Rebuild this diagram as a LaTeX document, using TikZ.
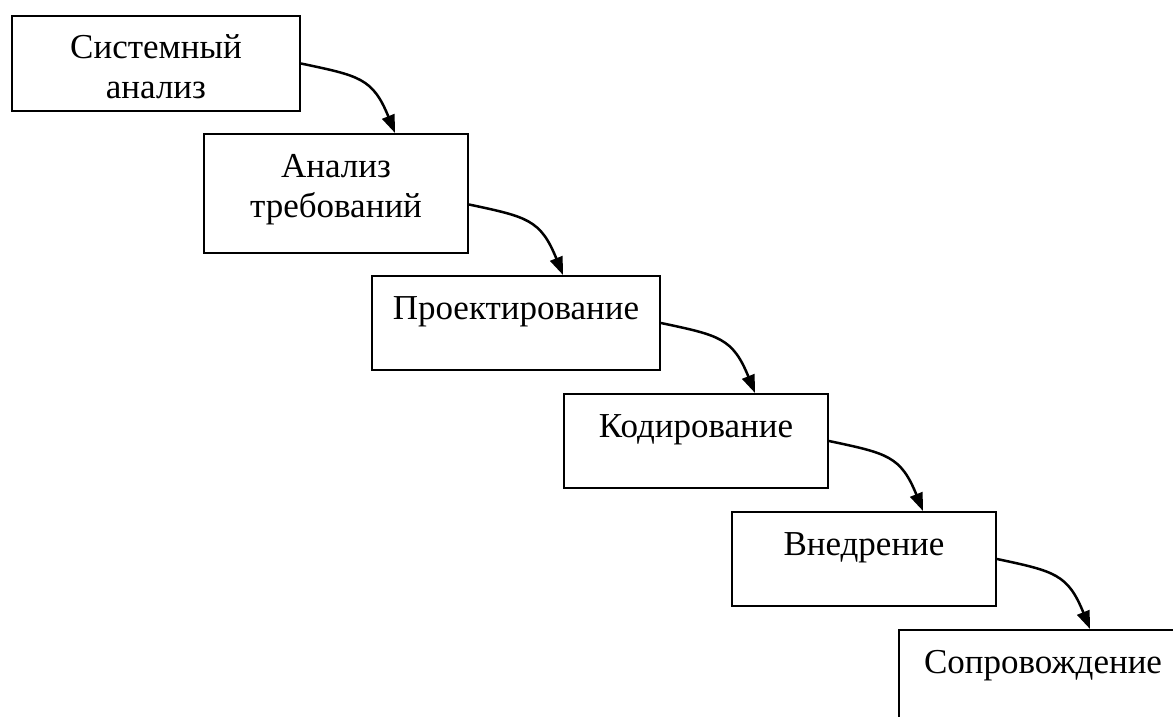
\documentclass[tikz,border=0pt]{standalone}
\usepackage{fontspec}
\setmainfont{Liberation Serif}
\usetikzlibrary{arrows.meta}

\tikzset{
	stagebox/.style={draw,line width=2pt,inner sep=0pt,anchor=north west,align=center,
		text height=43pt,font=\fontsize{35pt}{40pt}\selectfont},
	flow/.style={line width=2.5pt,-{Triangle[length=18pt,width=13pt]},out=-12,in=112,looseness=1.3}
}

\begin{document}
\begin{tikzpicture}[x=1pt,y=-1pt]
			\clip (0,0) rectangle (1173,717);

			\node[stagebox,text width=288pt,text depth=52pt] (sysan) at (11,15) {Системный\\анализ};
			\node[stagebox,text width=264pt,text depth=76pt] (reqan) at (203,133) {Анализ\\требований};
			\node[stagebox,text width=288pt,text depth=51pt] (design) at (371,275) {Проектирование};
			\node[stagebox,text width=264pt,text depth=51pt] (coding) at (563,393) {Кодирование};
			\node[stagebox,text width=264pt,text depth=51pt] (deploy) at (731,511) {Внедрение};
			\node[stagebox,text width=288pt,text depth=51pt] (support) at (898,629) {Сопровождение};

			\draw[flow] (sysan.east) to ([xshift=192pt]reqan.north west);
			\draw[flow] ([yshift=-11pt]reqan.east) to ([xshift=192pt]design.north west);
			\draw[flow] (design.east) to ([xshift=192pt]coding.north west);
			\draw[flow] (coding.east) to ([xshift=192pt]deploy.north west);
			\draw[flow] (deploy.east) to ([xshift=192pt]support.north west);

			% \draw[help lines,step=50] (0,0) grid (1173,717);
		\end{tikzpicture}
\end{document}
